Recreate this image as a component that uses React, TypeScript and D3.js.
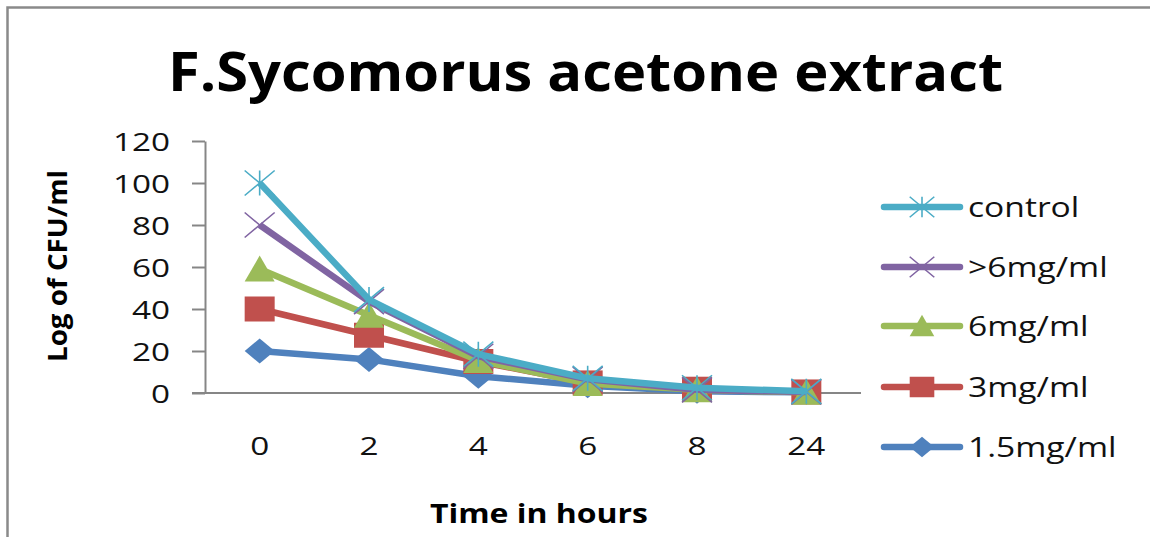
import { useEffect, useRef } from 'react';
import * as d3 from 'd3';

const times = ['0', '2', '4', '6', '8', '24'];
const yTicks = [0, 20, 40, 60, 80, 100, 120];

const seriesNames = ['control', '>6mg/ml', '6mg/ml', '3mg/ml', '1.5mg/ml'];
const seriesColors = ['#4BACC6', '#8064A2', '#9BBB59', '#C0504D', '#4F81BD'];
const seriesMarkers = ['star', 'x', 'triangle', 'square', 'diamond'];

const control = [100, 44.5, 18.5, 7, 2.5, 0.8];
const over6 = [80, 43.5, 17.5, 6.5, 1.5, 0.5];
const mg6 = [59, 37, 15.5, 4.5, 1.5, 0.3];
const mg3 = [40, 27.5, 15, 4.8, 1.8, 0.5];
const mg15 = [20, 16, 8, 3.5, 0.8, 0.3];
const seriesValues = [control, over6, mg6, mg3, mg15];

const FONT = '"Open Sans", "Liberation Sans", sans-serif';

// draws one marker into g, centred at 0,0
function marker(g: any, kind: string, color: string, s = 1) {
  const w = 15 * s, h = 12.5 * s;
  if (kind === 'diamond') {
    g.append('path').attr('d', `M0,${-h}L${w},0L0,${h}L${-w},0Z`).attr('fill', color);
  } else if (kind === 'square') {
    g.append('rect').attr('x', -w).attr('y', -h).attr('width', 2 * w).attr('height', 2 * h).attr('fill', color);
  } else if (kind === 'triangle') {
    g.append('path').attr('d', `M0,${-h - 1}L${w},${h}L${-w},${h}Z`).attr('fill', color);
  } else {
    const p = `M${-w},${-h}L${w},${h}M${-w},${h}L${w},${-h}` + (kind === 'star' ? `M0,${-h}L0,${h}` : '');
    g.append('path').attr('d', p).attr('stroke', color).attr('stroke-width', 1.6).attr('fill', 'none');
  }
}

function stretch(sel: any, k: number) {
  sel.each(function (this: any) {
    const len = this.getComputedTextLength();
    d3.select(this).attr('textLength', len * k).attr('lengthAdjust', 'spacingAndGlyphs');
  });
}

export default function App() {
  const svgRef = useRef<SVGSVGElement>(null);
  const width = 1150, height = 537;

  useEffect(() => {
    if (!svgRef.current) return;
    const svg = d3.select(svgRef.current);
    svg.selectAll('*').remove();

    svg.append('rect').attr('width', width).attr('height', height).attr('fill', '#fff');
    // chart frame (only left and top edges visible)
    svg.append('path').attr('d', `M7.5,${height}V7.5H${width}`)
      .attr('fill', 'none').attr('stroke', '#8a8a8a').attr('stroke-width', 2.5);

    const x = d3.scaleBand().domain(times).range([205, 861]);
    const y = d3.scaleLinear().domain([0, 120]).range([393, 141]);

    // y axis
    const ya = svg.append('g').attr('transform', 'translate(205,0)')
      .call(d3.axisLeft(y).tickValues(yTicks).tickSize(13).tickPadding(22).tickSizeOuter(0));
    ya.selectAll('.domain, line').attr('stroke', '#868686').attr('stroke-width', 2);
    ya.selectAll('text').attr('font-family', FONT).attr('font-size', 26).attr('fill', '#111').attr('dy', '0.36em');
    stretch(ya.selectAll('text'), 1.28);

    // x axis
    const xa = svg.append('g').attr('transform', 'translate(0,393)')
      .call(d3.axisBottom(x).tickSize(0).tickPadding(44).tickSizeOuter(0));
    xa.select('.domain').attr('d', 'M192,0H861').attr('stroke', '#868686').attr('stroke-width', 2);
    xa.selectAll('text').attr('font-family', FONT).attr('font-size', 26).attr('fill', '#111');
    stretch(xa.selectAll('text'), 1.28);

    const cx = (t: string) => (x(t) as number) + x.bandwidth() / 2;
    const line = d3.line<number>().x((_, i) => cx(times[i])).y((d) => y(d));

    // draw from the last series up so control ends on top
    d3.range(seriesNames.length).reverse().forEach((si) => {
      const color = seriesColors[si];
      svg.append('path').datum(seriesValues[si])
        .attr('fill', 'none').attr('stroke', color).attr('stroke-width', 6.5)
        .attr('stroke-linejoin', 'round').attr('d', line);
      seriesValues[si].forEach((v, i) => {
        const m = svg.append('g').attr('transform', `translate(${cx(times[i])},${y(v)})`);
        marker(m, seriesMarkers[si], color);
      });
    });

    // legend
    const rows = [207, 267, 326, 387, 447];
    seriesNames.forEach((name, si) => {
      const color = seriesColors[si];
      const lg = svg.append('g').attr('transform', `translate(0,${rows[si]})`);
      lg.append('line').attr('x1', 884).attr('x2', 960).attr('stroke', color)
        .attr('stroke-width', 6.5).attr('stroke-linecap', 'round');
      marker(lg.append('g').attr('transform', 'translate(922,0)'), seriesMarkers[si], color, 0.82);
      const t = lg.append('text').attr('x', 968).attr('dy', '0.36em')
        .attr('font-family', FONT).attr('font-size', 28).attr('fill', '#111').text(name);
      stretch(t, 1.2);
    });

    // titles
    svg.append('text').attr('x', 585.5).attr('y', 91).attr('text-anchor', 'middle')
      .attr('font-family', FONT).attr('font-weight', 700).attr('font-size', 53).attr('fill', '#000')
      .attr('textLength', 835).attr('lengthAdjust', 'spacingAndGlyphs')
      .text('F.Sycomorus acetone extract');
    svg.append('text').attr('x', 539).attr('y', 523).attr('text-anchor', 'middle')
      .attr('font-family', FONT).attr('font-weight', 700).attr('font-size', 27).attr('fill', '#000')
      .attr('textLength', 218).attr('lengthAdjust', 'spacingAndGlyphs')
      .text('Time in hours');
    svg.append('text').attr('transform', 'translate(67,266) rotate(-90)').attr('text-anchor', 'middle')
      .attr('font-family', FONT).attr('font-weight', 700).attr('font-size', 27).attr('fill', '#000')
      .attr('textLength', 192).attr('lengthAdjust', 'spacingAndGlyphs')
      .text('Log of CFU/ml');
  }, []);

  return <svg ref={svgRef} width={width} height={height}
    style={{ display: 'block', position: 'absolute', left: 0, top: 0 }} />;
}
